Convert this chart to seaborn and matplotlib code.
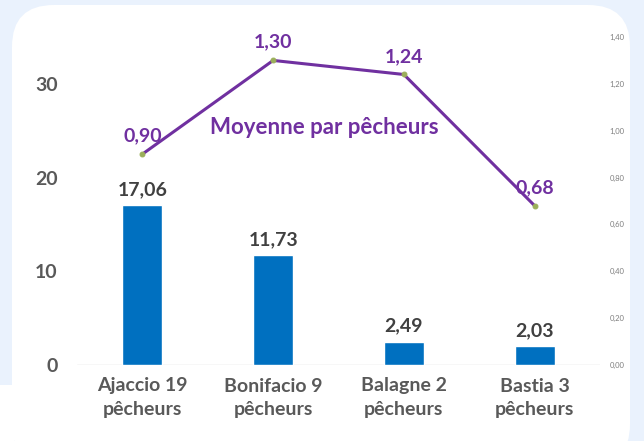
import matplotlib
matplotlib.use("Agg")
import matplotlib.pyplot as plt
from matplotlib.patches import FancyBboxPatch, Rectangle
import numpy as np
import pandas as pd
import seaborn as sns

categories = ["Ajaccio 19\npêcheurs", "Bonifacio 9\npêcheurs", "Balagne 2\npêcheurs", "Bastia 3\npêcheurs"]
totals = [17.06, 11.73, 2.49, 2.03]
averages = [0.90, 1.30, 1.24, 0.68]
left_ticks = [0, 10, 20, 30]
right_ticks = [0.0, 0.2, 0.4, 0.6, 0.8, 1.0, 1.2, 1.4]
line_title = "Moyenne par pêcheurs"

sns.set_theme(style="white")
plt.rcParams["font.family"] = ["Lato", "DejaVu Sans"]

BAR = "#0070C0"
PURPLE = "#7030A0"
GRAY = "#595959"

fig = plt.figure(figsize=(6.44, 4.41), dpi=100)
fig.patch.set_facecolor("#EAF2FD")

# white card
card = FancyBboxPatch((12 / 644, -25 / 441), (630 - 12) / 644, (441 + 25 - 5) / 441,
                      boxstyle="round,pad=0,rounding_size=0.065", transform=fig.transFigure,
                      facecolor="white", edgecolor="none", zorder=-5, mutation_aspect=644 / 441)
fig.patches.append(card)
fig.patches.append(Rectangle((0, 0), 14 / 644, (441 - 385) / 441, transform=fig.transFigure,
                             facecolor="white", edgecolor="none", zorder=-5))

ax = fig.add_axes([77 / 644, 1 - 365 / 441, (600 - 77) / 644, (365 - 37) / 441])
ax.set_facecolor("none")

df = pd.DataFrame({"cat": categories, "total": totals, "avg": averages})
sns.barplot(data=df, x="cat", y="total", color=BAR, width=0.305, saturation=1, ax=ax, zorder=2)
ax.set_ylim(0, 35)
ax.set_xlim(-0.5, 3.5)
ax.set_yticks(left_ticks)
ax.set_yticklabels([str(t) for t in left_ticks])
ax.set_xlabel("")
ax.set_ylabel("")
for s in ax.spines.values():
    s.set_visible(False)
ax.axhline(0, color="#D9D9D9", lw=1, zorder=1)
ax.tick_params(axis="y", length=0, pad=14, labelsize=14, labelcolor=GRAY)
ax.tick_params(axis="x", length=0, pad=9, labelsize=14, labelcolor=GRAY)
for lab in ax.get_yticklabels() + ax.get_xticklabels():
    lab.set_fontweight("bold")
for lab in ax.get_xticklabels():
    lab.set_linespacing(1.45)

for i, v in enumerate(totals):
    ax.annotate(f"{v:.2f}".replace(".", ","), (i, v), xytext=(0, 5), textcoords="offset points",
                ha="center", va="bottom", fontsize=14, fontweight="bold", color="#404040")

ax2 = ax.twinx()
ax2.set_facecolor("none")
sns.lineplot(x=np.arange(len(averages)), y=averages, ax=ax2, color=PURPLE, lw=2.2,
             marker="o", markersize=3.5, markerfacecolor="#9BAF5A", markeredgecolor="#9BAF5A", zorder=3)
ax2.set_ylim(0, 1.4)
ax2.set_xlim(-0.5, 3.5)
ax2.set_yticks(right_ticks)
ax2.set_yticklabels([f"{t:.2f}".replace(".", ",") for t in right_ticks])
ax2.tick_params(axis="y", length=0, pad=7, labelsize=5.5, labelcolor="#7F7F7F")
for s in ax2.spines.values():
    s.set_visible(False)
ax2.grid(False)

for i, v in enumerate(averages):
    ax2.annotate(f"{v:.2f}".replace(".", ","), (i, v), xytext=(0, 7), textcoords="offset points",
                 ha="center", va="bottom", fontsize=14, fontweight="bold", color=PURPLE)

fig.text(324 / 644, 1 - 128 / 441, line_title, ha="center", va="center",
         fontsize=16, fontweight="bold", color=PURPLE)

fig.savefig("out.png", dpi=100)
